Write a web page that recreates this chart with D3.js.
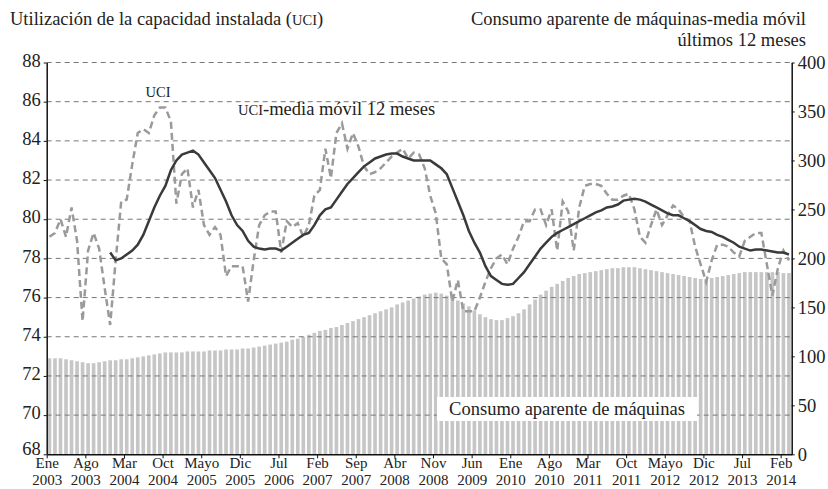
<!DOCTYPE html>
<html>
<head>
<meta charset="utf-8">
<script src="https://cdn.jsdelivr.net/npm/d3@7"></script>
<style>
    body { margin: 0; background: #fff; }
    svg text { font-family: "Liberation Serif", "Times New Roman", serif; fill: #222; }
</style>
</head>
<body>
<div id="myfigure"></div>
<script>
// tick labels (one every 7 months, starting Jan 2003)
var tickMonths = ["Ene", "Ago", "Mar", "Oct", "Mayo", "Dic", "Jul", "Feb", "Sep", "Abr",
                  "Nov", "Jun", "Ene", "Ago", "Mar", "Oct", "Mayo", "Dic", "Jul", "Feb"];
var tickYears = ["2003", "2003", "2004", "2004", "2005", "2005", "2006", "2007", "2007", "2008",
                 "2008", "2009", "2010", "2010", "2011", "2011", "2012", "2012", "2013", "2014"];

// consumo aparente de maquinas, media movil 12 meses (right axis), Ene 2003 .. Mar 2014
var consumo = [
    98, 98, 98, 97, 96, 95, 94, 93, 93, 94, 95, 96,
    96, 97, 97, 98, 99, 100, 101, 102, 103, 104, 104, 104,
    104, 105, 105, 105, 105, 106, 106, 106, 107, 107, 107, 108,
    108, 109, 110, 111, 112, 113, 114, 115, 117, 118, 120, 122,
    124, 126, 127, 129, 130, 132, 134, 136, 138, 140, 142, 144,
    146, 148, 150, 153, 155, 157, 159, 161, 163, 164, 165, 164,
    162, 160, 157, 154, 151, 147, 143, 140, 138, 137, 137, 139,
    141, 144, 148, 153, 158, 163, 167, 171, 174, 177, 180, 182,
    184, 185, 186, 187, 188, 189, 190, 190, 191, 191, 191, 190,
    189, 188, 187, 186, 185, 184, 183, 182, 181, 180, 179, 179,
    180, 181, 182, 183, 184, 185, 186, 186, 186, 186, 186, 186,
    186, 185, 185
];

// UCI mensual (left axis)
var uci = [
    79.1, 79.3, 80.0, 79.1, 80.6, 78.9, 74.8, 78.4, 79.3, 78.5, 76.5, 74.6,
    77.9, 80.9, 81.0, 82.8, 84.4, 84.6, 84.4, 85.3, 85.7, 85.7, 85.0, 80.8,
    82.3, 82.6, 80.6, 81.5, 79.7, 79.2, 79.6, 79.2, 77.1, 77.6, 77.6, 77.6,
    75.8, 77.9, 79.7, 80.2, 80.4, 80.4, 78.3, 79.9, 79.6, 79.8, 79.1, 79.7,
    81.2, 81.5, 83.6, 82.1, 84.4, 84.9, 83.6, 84.4, 83.7, 82.7, 82.3, 82.4,
    82.6, 82.9, 83.2, 83.4, 83.6, 83.1, 83.4, 83.3, 82.6, 81.2, 80.3, 78.0,
    77.7, 75.8, 76.9, 75.3, 75.3, 75.3, 76.0, 76.8, 77.5, 78.0, 78.2, 77.7,
    78.5, 79.1, 79.9, 79.9, 80.5, 80.5, 79.7, 80.5, 78.4, 80.9, 80.4, 78.4,
    80.6, 81.7, 81.8, 81.8, 81.7, 81.3, 81.0, 81.0, 81.2, 81.3, 80.5, 79.1,
    78.8, 79.7, 80.5, 79.7, 80.2, 80.7, 80.5, 80.1, 79.9, 78.6, 77.7, 76.8,
    77.9, 78.7, 78.7, 78.6, 78.3, 78.1, 78.9, 79.1, 79.3, 79.3, 77.7, 76.1,
    77.5, 78.4, 77.9
];

// UCI media movil 12 meses (left axis), starts Dic 2003
var uciMedia = [
    null, null, null, null, null, null, null, null, null, null, null, 78.3,
    77.9, 78.0, 78.2, 78.4, 78.7, 79.2, 79.9, 80.6, 81.2, 81.7, 82.5, 83.0,
    83.3, 83.4, 83.5, 83.3, 82.9, 82.5, 82.1, 81.5, 80.9, 80.2, 79.7, 79.4,
    78.9, 78.6, 78.5, 78.45, 78.5, 78.5, 78.4, 78.6, 78.8, 79.0, 79.2, 79.3,
    79.7, 80.2, 80.5, 80.6, 81.0, 81.4, 81.8, 82.1, 82.4, 82.7, 82.9, 83.1,
    83.2, 83.3, 83.35, 83.35, 83.2, 83.1, 83.0, 83.0, 83.0, 83.0, 82.8, 82.6,
    82.3, 81.6, 80.9, 80.2, 79.4, 78.8, 78.3, 77.6, 77.1, 76.9, 76.7, 76.65,
    76.7, 77.0, 77.3, 77.7, 78.1, 78.5, 78.8, 79.1, 79.3, 79.45, 79.6, 79.75,
    79.9, 80.05, 80.2, 80.35, 80.45, 80.6, 80.65, 80.75, 80.95, 81.0, 81.05, 81.0,
    80.9, 80.75, 80.6, 80.45, 80.3, 80.2, 80.2, 80.05, 79.9, 79.7, 79.5, 79.4,
    79.35, 79.2, 79.1, 78.95, 78.8, 78.6, 78.5, 78.4, 78.45, 78.45, 78.4, 78.35,
    78.3, 78.3, 78.2
];

var width = 828;
var height = 489;
var margin = { left: 46.7, right: 36.3, top: 62.5, bottom: 34.7 };
var x0 = margin.left, x1 = width - margin.right;
var y0 = height - margin.bottom, y1 = margin.top;
var n = consumo.length;
var fs = "18.5px";   // main text size
var fsSc = "14.5px"; // small caps "UCI"

var svg = d3.select("#myfigure")
    .append("svg")
    .attr("width", width)
    .attr("height", height);

// scales
var xLin = d3.scaleLinear().domain([0, n]).range([x0, x1]);
var xBand = d3.scaleBand().domain(d3.range(n)).range([x0, x1])
    .paddingInner(0.34).paddingOuter(0.17);
var yL = d3.scaleLinear().domain([68, 88]).range([y0, y1]);
var yR = d3.scaleLinear().domain([0, 400]).range([y0, y1]);

// bars
svg.append("g").selectAll("rect")
    .data(consumo)
    .enter().append("rect")
    .attr("x", function(d, i) { return xBand(i); })
    .attr("y", function(d) { return yR(d); })
    .attr("width", xBand.bandwidth())
    .attr("height", function(d) { return y0 - yR(d); })
    .attr("fill", "#c6c6c6");

// dashed grid lines
svg.append("g").selectAll("line")
    .data(d3.range(70, 89, 2))
    .enter().append("line")
    .attr("x1", x0).attr("x2", x1)
    .attr("y1", function(d) { return yL(d); })
    .attr("y2", function(d) { return yL(d); })
    .attr("stroke", "#777")
    .attr("stroke-width", 1)
    .attr("stroke-dasharray", "5 4");

// white label box over the bars
svg.append("rect")
    .attr("x", 437).attr("y", 397)
    .attr("width", 260).attr("height", 24)
    .attr("fill", "#fff");
svg.append("text")
    .attr("x", 567).attr("y", 415)
    .style("text-anchor", "middle")
    .style("font-size", fs)
    .text("Consumo aparente de máquinas");

// lines
var xMid = function(d, i) { return xLin(i + 0.5); };
var lineL = d3.line()
    .defined(function(d) { return d !== null; })
    .x(xMid)
    .y(function(d) { return yL(d); });

svg.append("path")
    .datum(uci)
    .attr("d", lineL)
    .attr("fill", "none")
    .attr("stroke", "#9a9a9a")
    .attr("stroke-width", 2.5)
    .attr("stroke-dasharray", "7 4");

svg.append("path")
    .datum(uciMedia)
    .attr("d", lineL)
    .attr("fill", "none")
    .attr("stroke", "#3a3a3a")
    .attr("stroke-width", 2.5);

// axes
var tickIdx = tickMonths.map(function(d, i) { return i * 7; });
var xAxis = d3.axisBottom(xLin).tickValues(tickIdx).tickSize(4).tickSizeOuter(0)
    .tickFormat(function(d, i) { return ""; });
var yAxisL = d3.axisLeft(yL).tickValues(d3.range(68, 89, 2)).tickSize(3).tickSizeOuter(0);
var yAxisR = d3.axisRight(yR).tickValues(d3.range(0, 401, 50)).tickSize(3).tickSizeOuter(0);

var gx = svg.append("g")
    .attr("class", "axis")
    .attr("transform", "translate(0," + y0 + ")")
    .call(xAxis);

var gl = svg.append("g")
    .attr("class", "axis")
    .attr("transform", "translate(" + x0 + ",0)")
    .call(yAxisL);
svg.append("g")
    .attr("class", "axis")
    .attr("transform", "translate(" + x1 + ",0)")
    .call(yAxisR);

svg.selectAll(".axis path").attr("stroke", "#111").attr("stroke-width", 1.5);
svg.selectAll(".axis line").attr("stroke", "#111");
svg.selectAll(".axis .tick text").style("font-size", fs).attr("fill", "#222");
// left labels sit a little above their tick, as in the original; 68 a bit more
gl.selectAll(".tick text").attr("dy", function(d) { return d === 68 ? "0.02em" : "0.2em"; });

// two-line month / year labels
gx.selectAll(".tick text").remove();
gx.selectAll(".tick").append("text")
    .attr("y", 14)
    .style("text-anchor", "middle")
    .style("font-size", "15px")
    .each(function(d, i) {
        var t = d3.select(this);
        t.append("tspan").attr("x", 0).text(tickMonths[i]);
        t.append("tspan").attr("x", 0).attr("dy", "17").text(tickYears[i]);
    });

// titles and labels
var t1 = svg.append("text")
    .attr("x", 10).attr("y", 25)
    .style("font-size", fs);
t1.append("tspan").text("Utilización de la capacidad instalada (");
t1.append("tspan").style("font-size", fsSc).text("UCI");
t1.append("tspan").text(")");

svg.append("text")
    .attr("x", 806).attr("y", 25)
    .style("text-anchor", "end")
    .style("font-size", fs)
    .text("Consumo aparente de máquinas-media móvil");
svg.append("text")
    .attr("x", 806).attr("y", 46)
    .style("text-anchor", "end")
    .style("font-size", fs)
    .text("últimos 12 meses");

svg.append("text")
    .attr("x", 158).attr("y", 97)
    .style("text-anchor", "middle")
    .style("font-size", fsSc)
    .text("UCI");

var lab = svg.append("text")
    .attr("x", 238).attr("y", 115)
    .style("font-size", fs);
lab.append("tspan").style("font-size", fsSc).text("UCI");
lab.append("tspan").text("-media móvil 12 meses");
</script>
</body>
</html>
